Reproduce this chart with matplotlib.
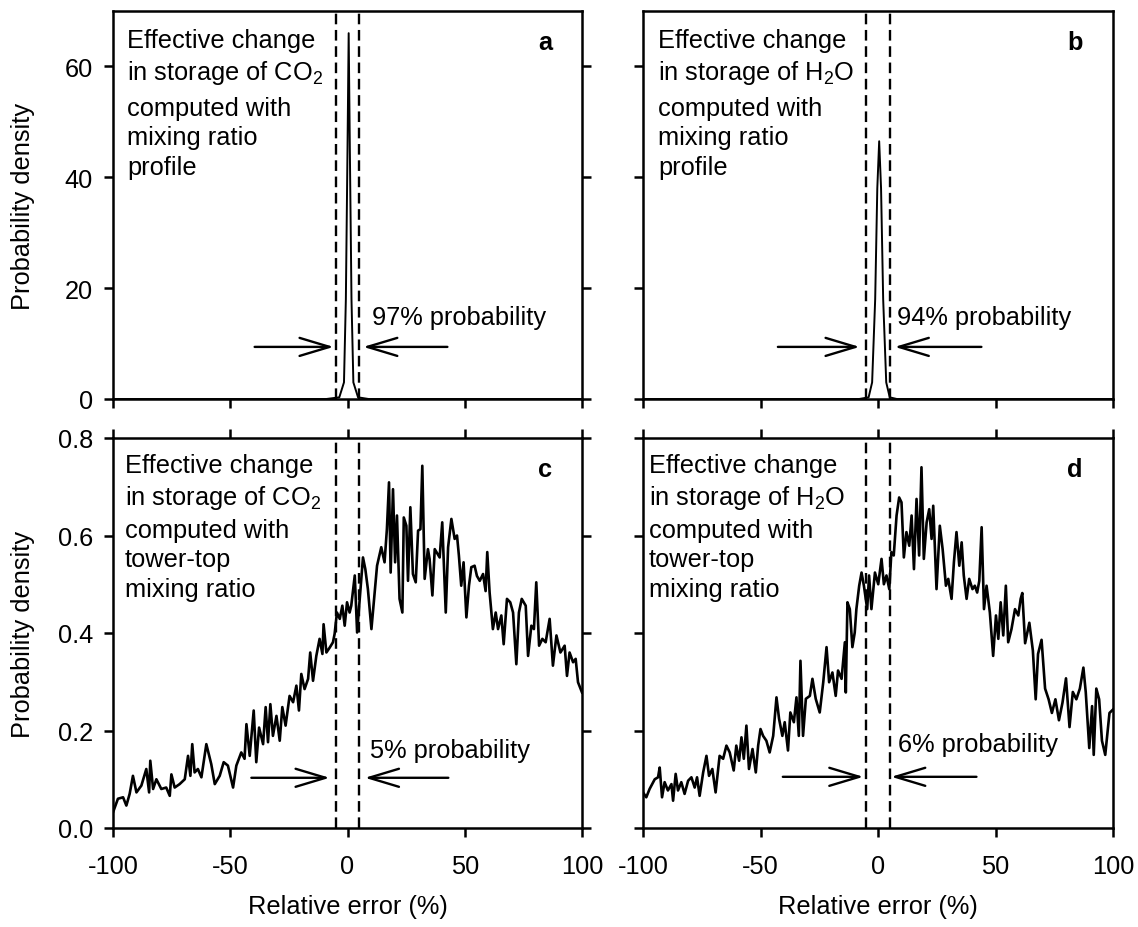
import matplotlib
matplotlib.use("Agg")
import matplotlib.pyplot as plt

plt.rcParams['font.family'] = ['Liberation Sans', 'DejaVu Sans']
plt.rcParams['mathtext.default'] = 'regular'
plt.rcParams['axes.unicode_minus'] = False

FS = 18.3

# ---------------- data ----------------
# panel a: CO2, mixing-ratio profile (sharp peak)
a_x = [-100, -9, -3.5, -1.5, -0.7, 0.0, 0.5, 1.0, 1.7, 2.5, 4.5, 9, 100]
a_y = [0, 0, 0.3, 3, 18, 45, 66, 45, 18, 3, 0.3, 0, 0]

# panel b: H2O, mixing-ratio profile (sharp peak)
b_x = [-100, -8, -4, -2.5, -1.2, -0.3, 0.5, 1.3, 2.2, 3.5, 5, 8, 100]
b_y = [0, 0, 0.3, 3, 18, 38, 46.5, 38, 18, 3, 0.3, 0, 0]

# panel c: CO2, tower-top mixing ratio
c_x = [-100, -97.9, -95.7, -94.3, -92.9, -91.5, -90.0, -87.9, -85.8, -84.6, -84.1, -82.9,
       -81.5, -79.4, -77.3, -75.8, -75.1, -73.7, -71.6, -69.4, -68.0, -67.0, -66.2, -65.2,
       -63.8, -62.3, -60.2, -58.1, -56.6, -54.5, -52.8, -51.0, -48.8, -47.4, -45.3, -43.9,
       -43.1, -41.7, -40.0, -38.9, -37.7, -36.0, -34.9, -33.9, -32.9, -31.8, -30.3, -28.9,
       -27.8, -26.4, -24.7, -23.2, -21.8, -20.7, -19.7, -18.3, -16.8, -15.9, -14.7, -13.3,
       -11.9, -10.7, -10.2, -9.0, -7.6, -6.2, -5.5, -4.5, -3.3, -2.2, -1.2, -0.2,
       0.9, 1.6, 3.1, 4.1, 5.2, 6.6, 7.6, 8.7, 10.2, 11.2, 12.6, 14.4,
       15.8, 16.8, 17.7, 18.4, 19.4, 20.3, 21.1, 22.2, 23.4, 24.0, 25.1, 25.8,
       26.8, 27.9, 29.1, 30.1, 31.1, 31.9, 32.9, 34.3, 35.0, 36.2, 37.2, 39.3,
       40.4, 41.9, 42.9, 44.3, 45.7, 46.7, 47.5, 48.5, 49.5, 50.7, 51.8, 52.8,
       54.2, 55.2, 56.4, 57.8, 58.9, 59.6, 60.6, 62.0, 63.2, 64.2, 65.6, 66.6,
       68.0, 69.4, 70.6, 72.0, 73.1, 74.3, 76.0, 77.0, 78.4, 79.5, 80.5, 81.7,
       83.1, 84.5, 86.2, 87.6, 89.1, 90.8, 92.6, 93.6, 94.7, 96.2, 97.3, 98.3, 100]
c_y = [0.032, 0.06, 0.063, 0.046, 0.07, 0.107, 0.073, 0.087, 0.121, 0.073, 0.138, 0.08,
       0.1, 0.08, 0.083, 0.066, 0.11, 0.083, 0.09, 0.1, 0.148, 0.107, 0.172, 0.114,
       0.121, 0.104, 0.172, 0.131, 0.09, 0.107, 0.135, 0.128, 0.083, 0.128, 0.155, 0.142,
       0.213, 0.148, 0.241, 0.135, 0.206, 0.172, 0.248, 0.176, 0.254, 0.189, 0.23, 0.179,
       0.248, 0.21, 0.271, 0.258, 0.292, 0.241, 0.316, 0.285, 0.306, 0.36, 0.302, 0.353,
       0.388, 0.357, 0.418, 0.36, 0.37, 0.381, 0.398, 0.442, 0.429, 0.456, 0.415, 0.463,
       0.442, 0.456, 0.518, 0.401, 0.47, 0.555, 0.531, 0.49, 0.408, 0.463, 0.538, 0.576,
       0.545, 0.613, 0.709, 0.524, 0.695, 0.545, 0.641, 0.47, 0.442, 0.637, 0.62, 0.507,
       0.658, 0.521, 0.504, 0.61, 0.613, 0.743, 0.511, 0.572, 0.552, 0.477, 0.572, 0.555,
       0.627, 0.442, 0.576, 0.634, 0.593, 0.6, 0.559, 0.497, 0.545, 0.432, 0.497, 0.535,
       0.538, 0.517, 0.507, 0.521, 0.486, 0.566, 0.483, 0.408, 0.442, 0.408, 0.436, 0.377,
       0.47, 0.463, 0.442, 0.336, 0.442, 0.47, 0.456, 0.353, 0.415, 0.408, 0.504, 0.374,
       0.388, 0.381, 0.429, 0.333, 0.395, 0.36, 0.374, 0.312, 0.36, 0.34, 0.347, 0.299, 0.278]

# panel d: H2O, tower-top mixing ratio
d_x = [-100, -98.6, -97.2, -95.0, -93.6, -92.9, -91.9, -90.8, -89.4, -87.9, -87.2, -86.1,
       -85.1, -83.7, -82.3, -80.8, -79.4, -78.0, -77.0, -75.9, -74.4, -73.0, -71.9, -70.5,
       -69.1, -67.4, -65.9, -64.5, -63.1, -61.4, -60.3, -59.1, -58.1, -57.1, -56.0, -54.9,
       -53.4, -52.0, -51.0, -50.0, -48.9, -47.5, -46.1, -44.6, -43.2, -42.1, -40.7, -39.7,
       -38.3, -37.3, -35.8, -34.7, -33.7, -33.0, -31.9, -30.7, -29.0, -27.9, -26.5, -24.8,
       -23.3, -21.9, -20.8, -19.4, -18.0, -17.0, -15.5, -14.1, -13.7, -13.0, -12.0, -10.9,
       -9.9, -9.2, -8.0, -7.0, -6.0, -4.6, -3.8, -2.8, -1.3, 0.1, 1.5, 2.5,
       3.6, 4.8, 5.7, 6.7, 7.9, 9.0, 10.0, 11.0, 12.1, 13.3, 14.3, 15.3,
       16.4, 17.5, 18.5, 19.5, 20.7, 21.8, 22.8, 23.5, 24.9, 26.3, 27.5, 28.9,
       29.9, 31.3, 32.3, 33.4, 34.6, 35.6, 36.5, 37.7, 38.8, 40.2, 41.2, 42.2,
       43.1, 44.1, 45.1, 46.2, 47.6, 49.0, 50.2, 51.2, 52.2, 53.3, 54.4, 55.4,
       56.8, 58.3, 59.7, 60.7, 61.4, 62.6, 64.4, 65.9, 67.1, 68.1, 69.6, 71.1,
       72.6, 74.0, 75.5, 77.0, 78.5, 80.0, 81.5, 82.9, 84.4, 85.9, 87.4, 88.4,
       89.9, 91.1, 91.8, 92.9, 94.1, 95.3, 96.7, 98.5, 100]
d_y = [0.073, 0.063, 0.08, 0.1, 0.104, 0.124, 0.063, 0.094, 0.077, 0.09, 0.056, 0.111,
       0.077, 0.094, 0.07, 0.097, 0.104, 0.083, 0.104, 0.066, 0.114, 0.148, 0.107, 0.121,
       0.073, 0.148, 0.142, 0.169, 0.155, 0.118, 0.169, 0.138, 0.186, 0.142, 0.21, 0.121,
       0.162, 0.114, 0.169, 0.203, 0.189, 0.179, 0.155, 0.189, 0.268, 0.224, 0.189, 0.217,
       0.159, 0.237, 0.217, 0.268, 0.189, 0.343, 0.189, 0.265, 0.271, 0.306, 0.265, 0.237,
       0.299, 0.371, 0.299, 0.319, 0.271, 0.323, 0.306, 0.381, 0.278, 0.463, 0.449, 0.371,
       0.401, 0.449, 0.497, 0.524, 0.497, 0.449, 0.518, 0.449, 0.524, 0.5, 0.552, 0.5,
       0.518, 0.49, 0.566, 0.559, 0.641, 0.678, 0.668, 0.555, 0.607, 0.579, 0.641, 0.531,
       0.675, 0.559, 0.74, 0.552, 0.627, 0.654, 0.593, 0.661, 0.49, 0.62, 0.572, 0.497,
       0.511, 0.47, 0.545, 0.607, 0.538, 0.586, 0.518, 0.47, 0.511, 0.49, 0.497, 0.483,
       0.507, 0.617, 0.449, 0.497, 0.442, 0.353, 0.436, 0.388, 0.463, 0.395, 0.497, 0.381,
       0.408, 0.449, 0.436, 0.47, 0.482, 0.379, 0.421, 0.364, 0.264, 0.357, 0.386, 0.286,
       0.264, 0.236, 0.264, 0.221, 0.257, 0.307, 0.207, 0.279, 0.264, 0.286, 0.329, 0.279,
       0.164, 0.25, 0.15, 0.286, 0.264, 0.179, 0.15, 0.236, 0.243]

band_edges = [-5, 5]
x_ticks = [-100, -50, 0, 50, 100]
top_yticks = [0, 20, 40, 60]
bot_yticks = [0.0, 0.2, 0.4, 0.6, 0.8]
bot_yticklabels = ['0.0', '0.2', '0.4', '0.6', '0.8']

panel_letters = ['a', 'b', 'c', 'd']
title1 = ['Effective change\nin storage of CO$_2$', 'Effective change\nin storage of H$_2$O',
          'Effective change\nin storage of CO$_2$', 'Effective change\nin storage of H$_2$O']
title2 = ['computed with\nmixing ratio\nprofile', 'computed with\nmixing ratio\nprofile',
          'computed with\ntower-top\nmixing ratio', 'computed with\ntower-top\nmixing ratio']
prob_text = ['97% probability', '94% probability', '5% probability', '6% probability']
prob_pos = [(10.6, 14.8), (7.9, 14.8), (9.7, 0.161), (8.5, 0.172)]
arrow_y = [9.4, 9.4, 0.103, 0.105]
left_arrow = [(-39.6, -5.9), (-42.6, -7.8), (-41.0, -7.6), (-40.5, -6.2)]
right_arrow = [(42.6, 6.7), (44.0, 7.1), (43.0, 7.4), (41.9, 5.6)]

# ---------------- layout ----------------
W, H = 1138, 928
fig = plt.figure(figsize=(W / 100, H / 100), dpi=100)


def rect(l, r, t, b):
    return [l / W, (H - b) / H, (r - l) / W, (b - t) / H]


ax_a = fig.add_axes(rect(113, 582, 12, 400))
ax_b = fig.add_axes(rect(643, 1113, 12, 400))
ax_c = fig.add_axes(rect(113, 582, 439, 829))
ax_d = fig.add_axes(rect(643, 1113, 439, 829))
axes = [ax_a, ax_b, ax_c, ax_d]

curves = [(a_x, a_y, 1.4), (b_x, b_y, 1.4), (c_x, c_y, 1.9), (d_x, d_y, 1.9)]
text_dx = [14, 15, 12, 6]        # px from left spine
top1 = [17, 17, 15, 15]          # px below top spine (block 1 top)
top2 = [85, 85, 80, 80]          # px below top spine (block 2 top)

for i, ax in enumerate(axes):
    xs, ys, lw = curves[i]
    ax.plot(xs, ys, color='black', lw=lw, zorder=3)
    for e in band_edges:
        ax.axvline(e, color='black', lw=1.7, dashes=(4.5, 2.4), zorder=2)
    ax.set_xlim(-100, 100)
    if i < 2:
        ax.set_ylim(0, 70)
        ax.set_yticks(top_yticks)
    else:
        ax.set_ylim(0, 0.8)
        ax.set_yticks(bot_yticks)
        ax.set_yticklabels(bot_yticklabels)
    ax.set_xticks(x_ticks)
    ax.set_xticklabels([str(v) for v in x_ticks])
    for sp in ax.spines.values():
        sp.set_linewidth(1.8)
    ax.tick_params(axis='both', direction='out', length=6.5, width=1.8,
                   labelsize=FS, color='black')
    ax.tick_params(axis='y', pad=8.0)
    ax.tick_params(axis='x', pad=12.5)
    ax.tick_params(top=(i >= 2), right=(i in (0, 2)), left=True, bottom=True,
                   labeltop=False, labelright=False,
                   labelleft=(i in (0, 2)), labelbottom=(i >= 2))

    # description text
    ax.annotate(title1[i], xy=(0, 1), xycoords='axes fraction',
                xytext=(text_dx[i] * 0.72, -top1[i] * 0.72), textcoords='offset points',
                ha='left', va='top', fontsize=FS, linespacing=1.28)
    ax.annotate(title2[i], xy=(0, 1), xycoords='axes fraction',
                xytext=(text_dx[i] * 0.72, -top2[i] * 0.72), textcoords='offset points',
                ha='left', va='top', fontsize=FS, linespacing=1.28)
    # panel letter
    ax.annotate(panel_letters[i], xy=(1, 1), xycoords='axes fraction',
                xytext=(-30 * 0.72, -38 * 0.72), textcoords='offset points',
                ha='right', va='baseline', fontsize=FS, fontweight='bold')
    # probability text and arrows
    ax.text(prob_pos[i][0], prob_pos[i][1], prob_text[i], ha='left', va='center',
            fontsize=FS)
    ay = arrow_y[i]
    for tail, head in (left_arrow[i], right_arrow[i]):
        ax.annotate('', xy=(head, ay), xytext=(tail, ay),
                    arrowprops=dict(arrowstyle='->,head_length=2.16,head_width=0.65',
                                    lw=1.7, color='black', shrinkA=0, shrinkB=0,
                                    mutation_scale=10))

for ax in (ax_a, ax_c):
    ax.set_ylabel('Probability density', fontsize=FS)
    ax.yaxis.set_label_coords(-0.166, 0.5)
for ax in (ax_c, ax_d):
    ax.set_xlabel('Relative error (%)', fontsize=FS)
    ax.xaxis.set_label_coords(0.5, -0.168)

fig.savefig('out.png', dpi=100)
